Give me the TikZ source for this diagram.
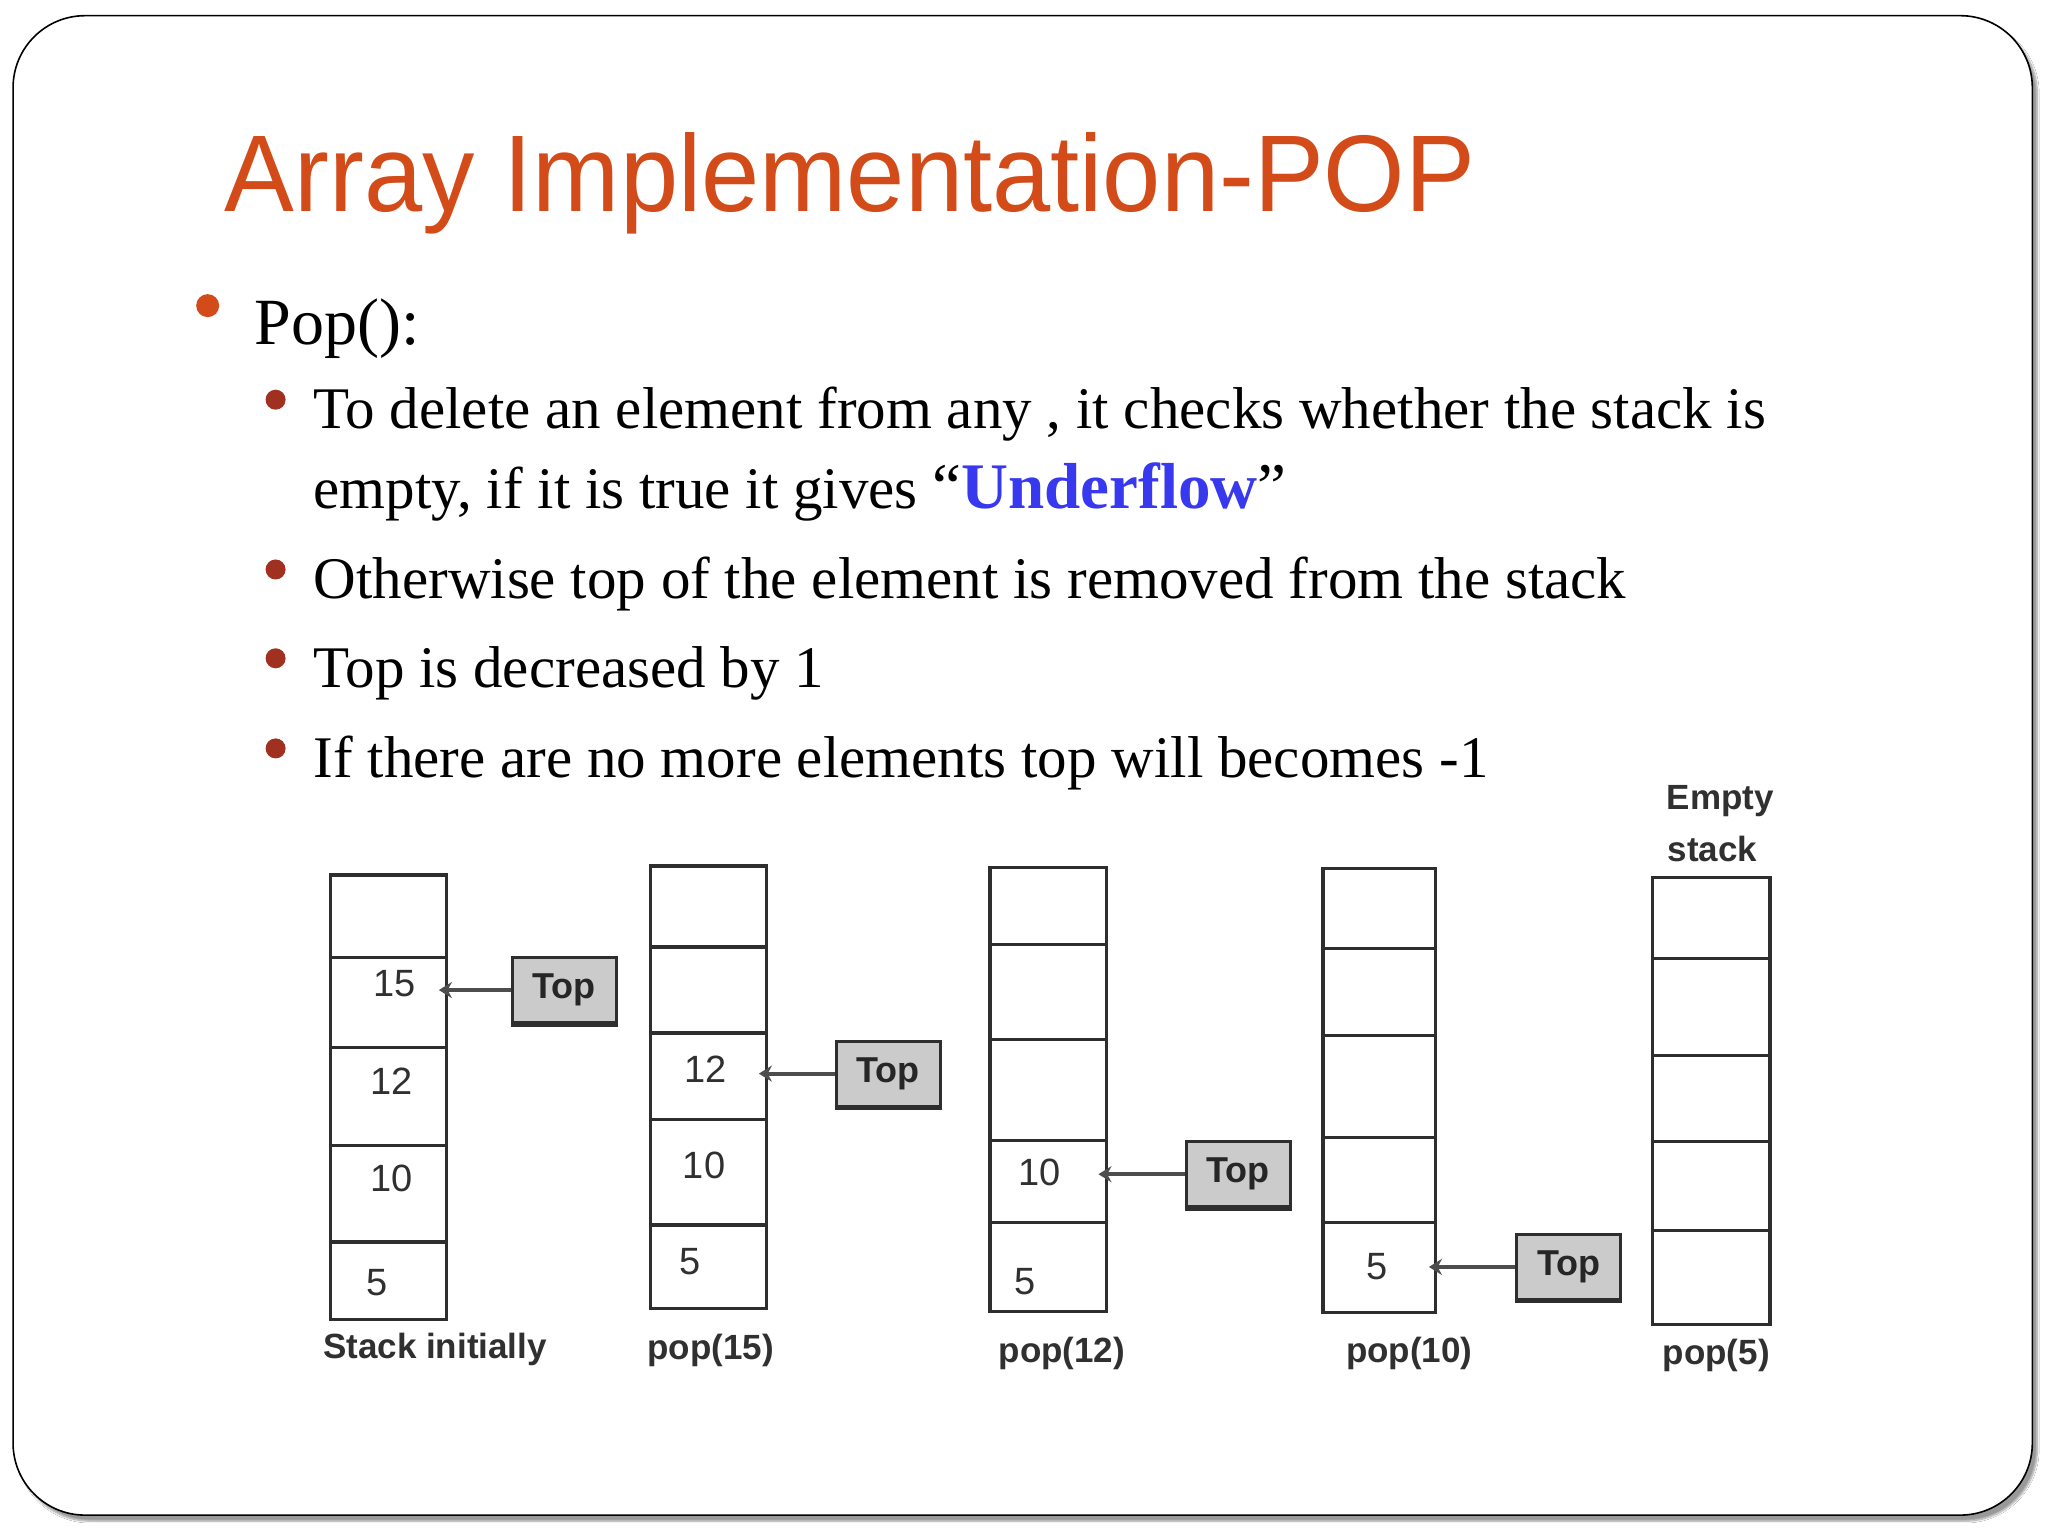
\documentclass[tikz,border=0pt]{standalone}
\usepackage{fontspec}
\setmainfont{Liberation Serif}
\newfontfamily\titlefont[FakeStretch=0.96]{Liberation Sans}
\newfontfamily\diagfont{Liberation Sans}
\usetikzlibrary{arrows.meta,shadows,shadows.blur}
\definecolor{titleorange}{HTML}{D24B19}
\definecolor{subbullet}{HTML}{A0301F}
\definecolor{ublue}{HTML}{3838EE}
\definecolor{stackcol}{HTML}{2E2E2E}
\definecolor{topfill}{HTML}{CBCBCB}
\definecolor{labelcol}{HTML}{303030}
\begin{document}
\begin{tikzpicture}[x=1.306pt,y=-1.306pt,
  frame/.style={draw=black, line width=1.6pt, fill=white, rounded corners=72pt,
    blur shadow={shadow xshift=5pt, shadow yshift=-6pt, shadow blur steps=8, shadow blur extra rounding=3pt}},
  bodytext/.style={anchor=base west, inner sep=0pt, font=\fontsize{59pt}{70pt}\selectfont},
  mainbullet/.style={circle, fill=titleorange, minimum size=23pt, inner sep=0pt},
  subbul/.style={circle, fill=subbullet, minimum size=20pt, inner sep=0pt},
  stackframe/.style={draw=stackcol, line width=3.4pt},
  stackdiv/.style={draw=stackcol, line width=3.4pt},
  cellval/.style={inner sep=0pt, text=labelcol, font=\diagfont\fontsize{38pt}{40pt}\selectfont},
  stacklabel/.style={inner sep=0pt, text=labelcol, font=\diagfont\bfseries\fontsize{35pt}{38pt}\selectfont},
  topbox/.style={draw=stackcol, line width=3pt, fill=topfill, minimum width=104pt, minimum height=65pt,
    inner sep=0pt, text=black!85, font=\diagfont\bfseries\fontsize{36pt}{38pt}\selectfont},
  toparrow/.style={draw=stackcol!85, line width=4pt, -{Stealth[length=13pt,width=16pt]}}
]
\useasboundingbox (0,0) rectangle (1568,1176);
\fill[white] (0,0) rectangle (1568,1176);
% slide frame
\path[frame] (10,12) rectangle (1556,1160);

% title
\node[anchor=base west, inner sep=0pt, text=titleorange, font=\titlefont\fontsize{109pt}{120pt}\selectfont] (title) at (172,162) {Array Implementation-POP};

% bullets
\node[mainbullet] (b0) at (159,234) {};
\node[anchor=base west, inner sep=0pt, font=\fontsize{66pt}{70pt}\selectfont] (pop) at (195,264) {Pop():};

\node[subbul] (b1) at (211,306) {};
\node[subbul] (b2) at (211,436) {};
\node[subbul] (b3) at (211,504) {};
\node[subbul] (b4) at (211,573) {};

\node[bodytext] (l1) at (240,328) {To delete an element from any , it checks whether the stack is};
\node[bodytext] (l2) at (240,389) {empty, if it is true it gives {\fontsize{65pt}{70pt}\selectfont “\textbf{\color{ublue}Underflow}”}};
\node[bodytext] (l3) at (240,458) {Otherwise top of the element is removed from the stack};
\node[bodytext] (l4) at (240,526) {Top is decreased by 1};
\node[bodytext] (l5) at (240,595) {If there are no more elements top will becomes -1};

% ---------- stack 1: initially ----------
\draw[stackframe] (253,670) rectangle (342,1010);
\foreach \yy in {733,802,877,951} \draw[stackdiv] (253,\yy) -- (342,\yy);
\node[cellval] (s1v15) at (302,753) {15};
\node[cellval] (s1v12) at (300,828) {12};
\node[cellval] (s1v10) at (300,902) {10};
\node[cellval] (s1v5) at (289,982) {5};
\node[topbox] (top1) at (432,758) {Top};
\draw[line width=5pt, stackcol] (top1.south west) -- (top1.south east);
\coordinate (a1) at (336,758);
\draw[toparrow] (top1.west) -- (a1);
\node[stacklabel] (lab1) at (333,1033) {Stack initially};

% ---------- stack 2: pop(15) ----------
\draw[stackframe] (498,663) rectangle (587,1002);
\foreach \yy in {725,791,857,938} \draw[stackdiv] (498,\yy) -- (587,\yy);
\node[cellval] (s2v12) at (540,819) {12};
\node[cellval] (s2v10) at (539,892) {10};
\node[cellval] (s2v5) at (528,966) {5};
\node[topbox] (top2) at (680,822) {Top};
\draw[line width=5pt, stackcol] (top2.south west) -- (top2.south east);
\coordinate (a2) at (581,822);
\draw[toparrow] (top2.west) -- (a2);
\node[stacklabel] (lab2) at (544,1034) {pop(15)};

% ---------- stack 3: pop(12) ----------
\draw[stackframe] (758,664) rectangle (847,1004);
\foreach \yy in {723,796,873,936} \draw[stackdiv] (758,\yy) -- (847,\yy);
\node[cellval] (s3v10) at (796,898) {10};
\node[cellval] (s3v5) at (785,981) {5};
\node[topbox] (top3) at (948,899) {Top};
\draw[line width=5pt, stackcol] (top3.south west) -- (top3.south east);
\coordinate (a3) at (841,899);
\draw[toparrow] (top3.west) -- (a3);
\node[stacklabel] (lab3) at (813,1036) {pop(12)};

% ---------- stack 4: pop(10) ----------
\draw[stackframe] (1013,665) rectangle (1099,1005);
\foreach \yy in {726,793,871,936} \draw[stackdiv] (1013,\yy) -- (1099,\yy);
\node[cellval] (s4v5) at (1054,970) {5};
\node[topbox] (top4) at (1201,970) {Top};
\draw[line width=5pt, stackcol] (top4.south west) -- (top4.south east);
\coordinate (a4) at (1094,970);
\draw[toparrow] (top4.west) -- (a4);
\node[stacklabel] (lab4) at (1079,1036) {pop(10)};

% ---------- stack 5: pop(5), empty ----------
\draw[stackframe] (1265,672) rectangle (1355,1014);
\foreach \yy in {734,808,874,942} \draw[stackdiv] (1265,\yy) -- (1355,\yy);
\node[stacklabel] (empty1) at (1317,613) {Empty};
\node[stacklabel] (empty2) at (1311,650) {stack};
\node[stacklabel] (lab5) at (1314,1038) {pop(5)};
\end{tikzpicture}
\end{document}
